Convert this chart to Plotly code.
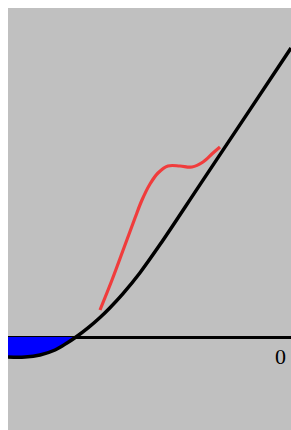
import plotly.graph_objects as go

# Black curve (x, y) in chart units; y = 0 is the horizontal axis
curve_x = [0, 17, 32, 47, 59, 68, 80, 92, 102, 115, 132, 152, 192, 242, 283]
curve_y = [-20, -20, -18, -13, -6, 0, 9.1, 19.5, 29.3, 43.4, 64.3, 92.4, 152.4, 227.4, 289]

# Red curve
red_x = [92, 104, 117, 127, 134, 142, 150, 160, 172, 184, 195, 205, 212]
red_y = [27, 57, 92, 119, 137, 153, 164, 171, 171, 170, 175, 184, 190]

# Blue filled region (part of black curve below the axis)
fill_x = [0, 17, 32, 47, 59, 68]
fill_y = [-20, -20, -18, -13, -6, 0]

axis_label = "0"

fig = go.Figure()
fig.add_trace(go.Scatter(x=fill_x, y=fill_y, mode="lines", line=dict(width=0, shape="spline"),
                         fill="tozeroy", fillcolor="#0000ff", hoverinfo="skip"))
fig.add_trace(go.Scatter(x=curve_x, y=curve_y, mode="lines",
                         line=dict(color="black", width=3.5, shape="spline", smoothing=1.0),
                         hoverinfo="skip"))
fig.add_trace(go.Scatter(x=red_x, y=red_y, mode="lines",
                         line=dict(color="#f03c3c", width=3.2, shape="spline"), hoverinfo="skip"))

fig.add_annotation(x=272, y=-19, text=axis_label, showarrow=False,
                   font=dict(family="Liberation Serif", size=22, color="black"),
                   xanchor="center", yanchor="middle")

fig.update_layout(
    width=291, height=430,
    margin=dict(l=8, r=0, t=8, b=0),
    paper_bgcolor="white", plot_bgcolor="#c0c0c0",
    showlegend=False,
    xaxis=dict(range=[0, 283], visible=False, fixedrange=True),
    yaxis=dict(range=[-93, 329], showgrid=False, showticklabels=False, ticks="",
               zeroline=True, zerolinecolor="black", zerolinewidth=2.5, fixedrange=True,
               showline=False),
)
fig.write_html("out.html", config={"displayModeBar": False},
               post_script="document.body.style.margin='0';"
                           "document.body.style.overflow='hidden';")
